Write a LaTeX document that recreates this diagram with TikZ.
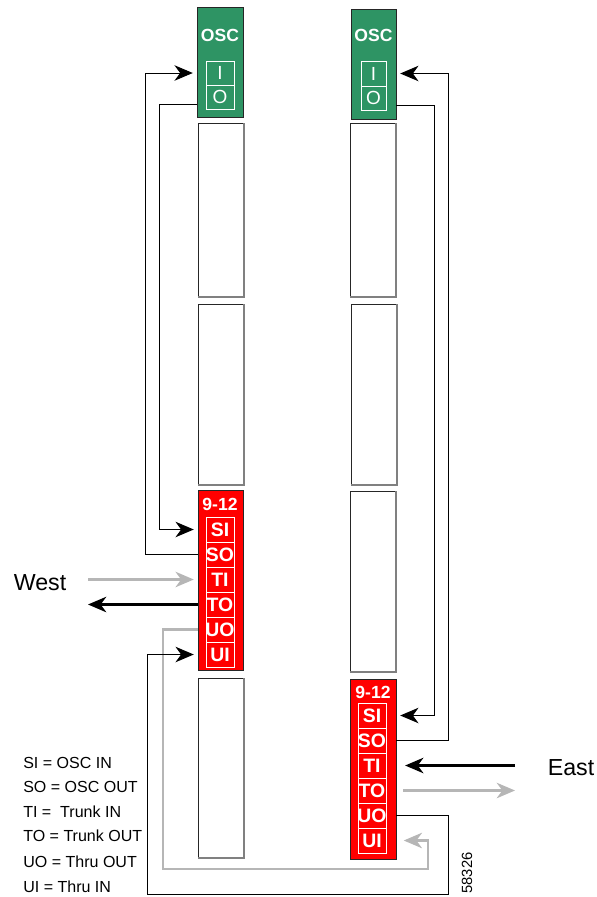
\documentclass[tikz,border=0pt]{standalone}
\usepackage{fontspec}
\setmainfont{Liberation Sans}
\usetikzlibrary{fit,arrows.meta}
\definecolor{oscgreen}{RGB}{46,148,100}
\definecolor{lgray}{RGB}{182,182,182}
\begin{document}
\begin{tikzpicture}[x=0.025cm,y=-0.025cm,
  card/.style={draw=black!85, line width=0.6pt, inner sep=0pt, outer sep=0pt},
  slot/.style={card, fill=white},
  cell/.style={draw=white, line width=0.5pt, inner sep=0pt, outer sep=0pt},
  rowlbl/.style={text=white, inner sep=0pt, font=\bfseries\fontsize{13.8}{14}\selectfont},
  iolbl/.style={text=white, inner sep=0pt, font=\fontsize{13.5}{14}\selectfont},
  lbl/.style={text=white, font=\bfseries\fontsize{12.5}{13}\selectfont, inner sep=0pt},
  legend/.style={anchor=west, font=\fontsize{11.4}{13}\selectfont, inner sep=0pt},
  tipS/.style={-{Stealth[length=13pt,width=11pt,inset=4pt]}},
  wire/.style={draw=black, line width=0.7pt},
  trunkK/.style={draw=black, line width=1.6pt},
  trunkG/.style={draw=lgray, line width=1.6pt},
  loopG/.style={draw=lgray, line width=1.7pt},
  shade/.style={draw=black!50, line width=0.9pt}]
\useasboundingbox (0,0) rectangle (597,897);

% ---- left column ----
\node[card, fill=oscgreen, fit={(197,7) (243,117)}] (oscL) {};
\node[lbl] (oscLt) at (220,35) {OSC};
\node[cell, fit={(206,61) (234,85)}, label={[iolbl]center:I}] (lI) {};
\node[cell, fit={(206,85) (234,109)}, label={[iolbl]center:O}] (lO) {};
\node[slot, fit={(198,123) (244,297)}] (sL1) {};
\node[slot, fit={(198,304) (244,485)}] (sL2) {};
\node[card, fill=red, fit={(198,490) (243,670)}] (redL) {};
\node[lbl] (redLt) at (220,504) {9-12};
\node[cell, fit={(206,517) (234,542)}, label={[rowlbl]center:SI}] (lSI) {};
\node[cell, fit={(206,542) (234,567)}, label={[rowlbl]center:SO}] (lSO) {};
\node[cell, fit={(206,567) (234,592)}, label={[rowlbl]center:TI}] (lTI) {};
\node[cell, fit={(206,592) (234,617)}, label={[rowlbl]center:TO}] (lTO) {};
\node[cell, fit={(206,617) (234,642)}, label={[rowlbl]center:UO}] (lUO) {};
\node[cell, fit={(206,642) (234,667)}, label={[rowlbl]center:UI}] (lUI) {};
\node[slot, fit={(198,678) (244,858)}] (sL4) {};

% ---- right column ----
\node[card, fill=oscgreen, fit={(351,9) (396,119)}] (oscR) {};
\node[lbl] (oscRt) at (373.5,35) {OSC};
\node[cell, fit={(361,61) (386,86)}, label={[iolbl]center:I}] (rI) {};
\node[cell, fit={(361,86) (386,110)}, label={[iolbl]center:O}] (rO) {};
\node[slot, fit={(350,123) (396,297)}] (sR1) {};
\node[slot, fit={(351,304) (397,485)}] (sR2) {};
\node[slot, fit={(350,491) (396,672)}] (sR3) {};
\node[card, fill=red, fit={(350,679) (396,859)}] (redR) {};
\node[lbl] (redRt) at (373,692) {9-12};
\node[cell, fit={(358,703) (386,728)}, label={[rowlbl]center:SI}] (rSI) {};
\node[cell, fit={(358,728) (386,753)}, label={[rowlbl]center:SO}] (rSO) {};
\node[cell, fit={(358,753) (386,778)}, label={[rowlbl]center:TI}] (rTI) {};
\node[cell, fit={(358,778) (386,803)}, label={[rowlbl]center:TO}] (rTO) {};
\node[cell, fit={(358,803) (386,828)}, label={[rowlbl]center:UO}] (rUO) {};
\node[cell, fit={(358,828) (386,853)}, label={[rowlbl]center:UI}] (rUI) {};

% shading edges of the empty slots
\foreach \n in {sL1,sL2,sL4,sR1,sR2,sR3}
  \draw[shade] (\n.north east) -- (\n.south east) -- (\n.south west);

% ---- routing coordinates ----
\coordinate (xa) at (145,0);
\coordinate (xb) at (159,0);
\coordinate (xc) at (163,0);
\coordinate (xd) at (147,0);
\coordinate (xe) at (434,0);
\coordinate (xf) at (448,0);
\coordinate (xg) at (428,0);
\coordinate (ya) at (0,869);
\coordinate (yb) at (0,894);
\coordinate (wEnd) at (88,0);
\coordinate (eEnd) at (515,0);
\path (oscL.west |- lO) ++(0,7) coordinate (oLport);
\path (oscR.east |- rO) ++(0,7) coordinate (oRport);

% ---- left connectors ----
\draw[wire,tipS,shorten >=3pt] (redL.west |- lSO) -- (xa |- lSO) -- (xa |- lI) -- (oscL.west |- lI);
\draw[wire,tipS,shorten >=3pt] (oLport) -- (xb |- oLport) -- (xb |- lSI) -- (redL.west |- lSI);
\draw[trunkG,tipS,shorten >=3pt] (wEnd |- lTI) -- (redL.west |- lTI);
\draw[trunkK,tipS] (redL.west |- lTO) -- (wEnd |- lTO);
\draw[loopG,tipS,shorten >=5.5pt] (redL.west |- lUO) -- (xc |- lUO) -- (xc |- ya) -- (xg |- ya) -- (xg |- rUI) -- (redR.east |- rUI);
\draw[wire,tipS,shorten >=3pt] (redR.east |- rUO) -- (xf |- rUO) -- (xf |- yb) -- (xd |- yb) -- (xd |- lUI) -- (redL.west |- lUI);

% ---- right connectors ----
\draw[wire,tipS,shorten >=3pt] (oRport) -- (xe |- oRport) -- (xe |- rSI) -- (redR.east |- rSI);
\draw[wire,tipS,shorten >=3pt] (redR.east |- rSO) -- (xf |- rSO) -- (xf |- rI) -- (oscR.east |- rI);
\draw[trunkK,tipS,shorten >=6.5pt] (eEnd |- rTI) -- (redR.east |- rTI);
\draw[trunkG,tipS,shorten <=5pt] (redR.east |- rTO) -- (eEnd |- rTO);

% ---- labels ----
\node[font=\fontsize{16.5}{18}\selectfont, inner sep=0pt] (west) at (40,583) {West};
\node[font=\fontsize{16.5}{18}\selectfont, inner sep=0pt] (east) at (571,768) {East};
\node[rotate=90, font=\fontsize{10.5}{12}\selectfont, inner sep=0pt] (fig) at (467,873) {58326};

\node[legend] (g1) at (23,763) {SI = OSC IN};
\node[legend] (g2) at (23,787) {SO = OSC OUT};
\node[legend] (g3) at (23,812) {TI = \ Trunk IN};
\node[legend] (g4) at (23,836) {TO = Trunk OUT};
\node[legend] (g5) at (23,862) {UO = Thru OUT};
\node[legend] (g6) at (23,887) {UI = Thru IN};
\end{tikzpicture}
\end{document}
